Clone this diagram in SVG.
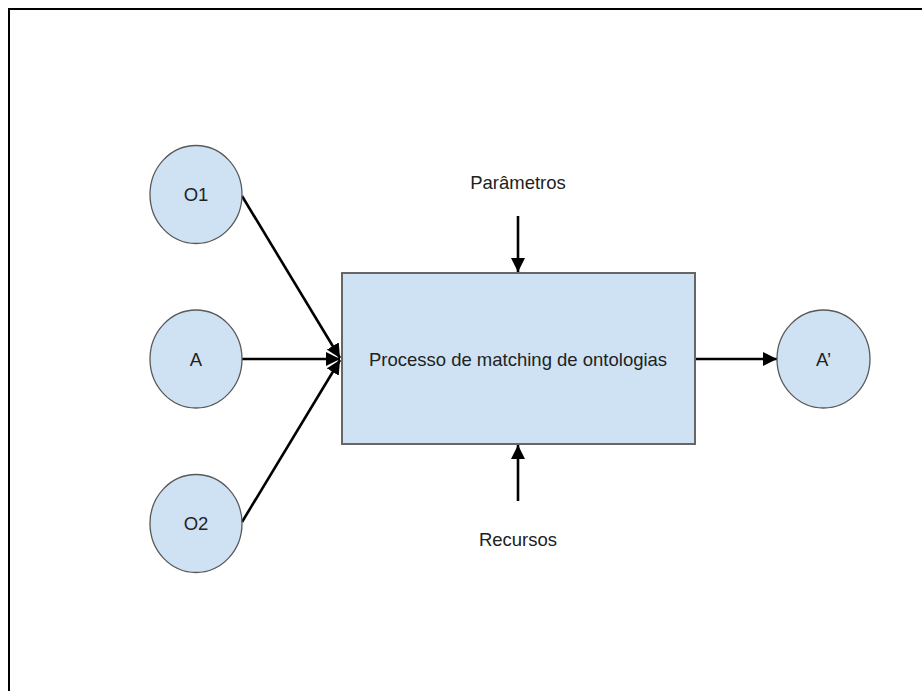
<svg xmlns="http://www.w3.org/2000/svg" width="922" height="691" viewBox="0 0 922 691">
  <style>
    .node { fill: #cfe2f3; stroke: #595959; stroke-width: 1.3; }
    .box { fill: #cfe2f3; stroke: #666666; stroke-width: 2; }
    .label { font-family: "Liberation Sans", Arial, sans-serif; font-size: 18.5px; fill: #222222; text-anchor: middle; }
    .edge { stroke: #000000; stroke-width: 2.6; fill: none; marker-end: url(#arrow); }
  </style>
  <defs>
    <marker id="arrow" viewBox="0 0 14 14" refX="14" refY="7" markerWidth="14" markerHeight="14" markerUnits="userSpaceOnUse" orient="auto">
      <path d="M0,0 L14,7 L0,14 Z" fill="#000000"/>
    </marker>
  </defs>
  <rect width="922" height="691" fill="#ffffff"/>
  <!-- page frame -->
  <path d="M9,691 L9,9 L922,9" fill="none" stroke="#000000" stroke-width="2"/>

  <g id="connectors">
    <line class="edge" x1="242" y1="196" x2="340" y2="358"/>
    <line class="edge" x1="242" y1="359" x2="340" y2="359"/>
    <line class="edge" x1="242" y1="522" x2="340" y2="360"/>
    <line class="edge" x1="695" y1="359" x2="777" y2="359"/>
    <line class="edge" x1="518" y1="216" x2="518" y2="272"/>
    <line class="edge" x1="518" y1="501" x2="518" y2="445"/>
  </g>

  <g id="O1">
    <ellipse class="node" cx="196" cy="194.5" rx="46" ry="49"/>
    <text class="label" x="196" y="201">O1</text>
  </g>
  <g id="A">
    <ellipse class="node" cx="196" cy="359" rx="46" ry="49"/>
    <text class="label" x="196" y="366">A</text>
  </g>
  <g id="O2">
    <ellipse class="node" cx="196" cy="523.5" rx="46" ry="49"/>
    <text class="label" x="196" y="530">O2</text>
  </g>
  <g id="processo">
    <rect class="box" x="342" y="273" width="353" height="171"/>
    <text class="label" x="518" y="366">Processo de matching de ontologias</text>
  </g>
  <g id="A-prime">
    <ellipse class="node" cx="823.5" cy="359" rx="46.5" ry="49"/>
    <text class="label" x="823.5" y="366">A’</text>
  </g>
  <g id="parametros">
    <text class="label" x="518" y="189">Parâmetros</text>
  </g>
  <g id="recursos">
    <text class="label" x="518" y="546">Recursos</text>
  </g>
</svg>
